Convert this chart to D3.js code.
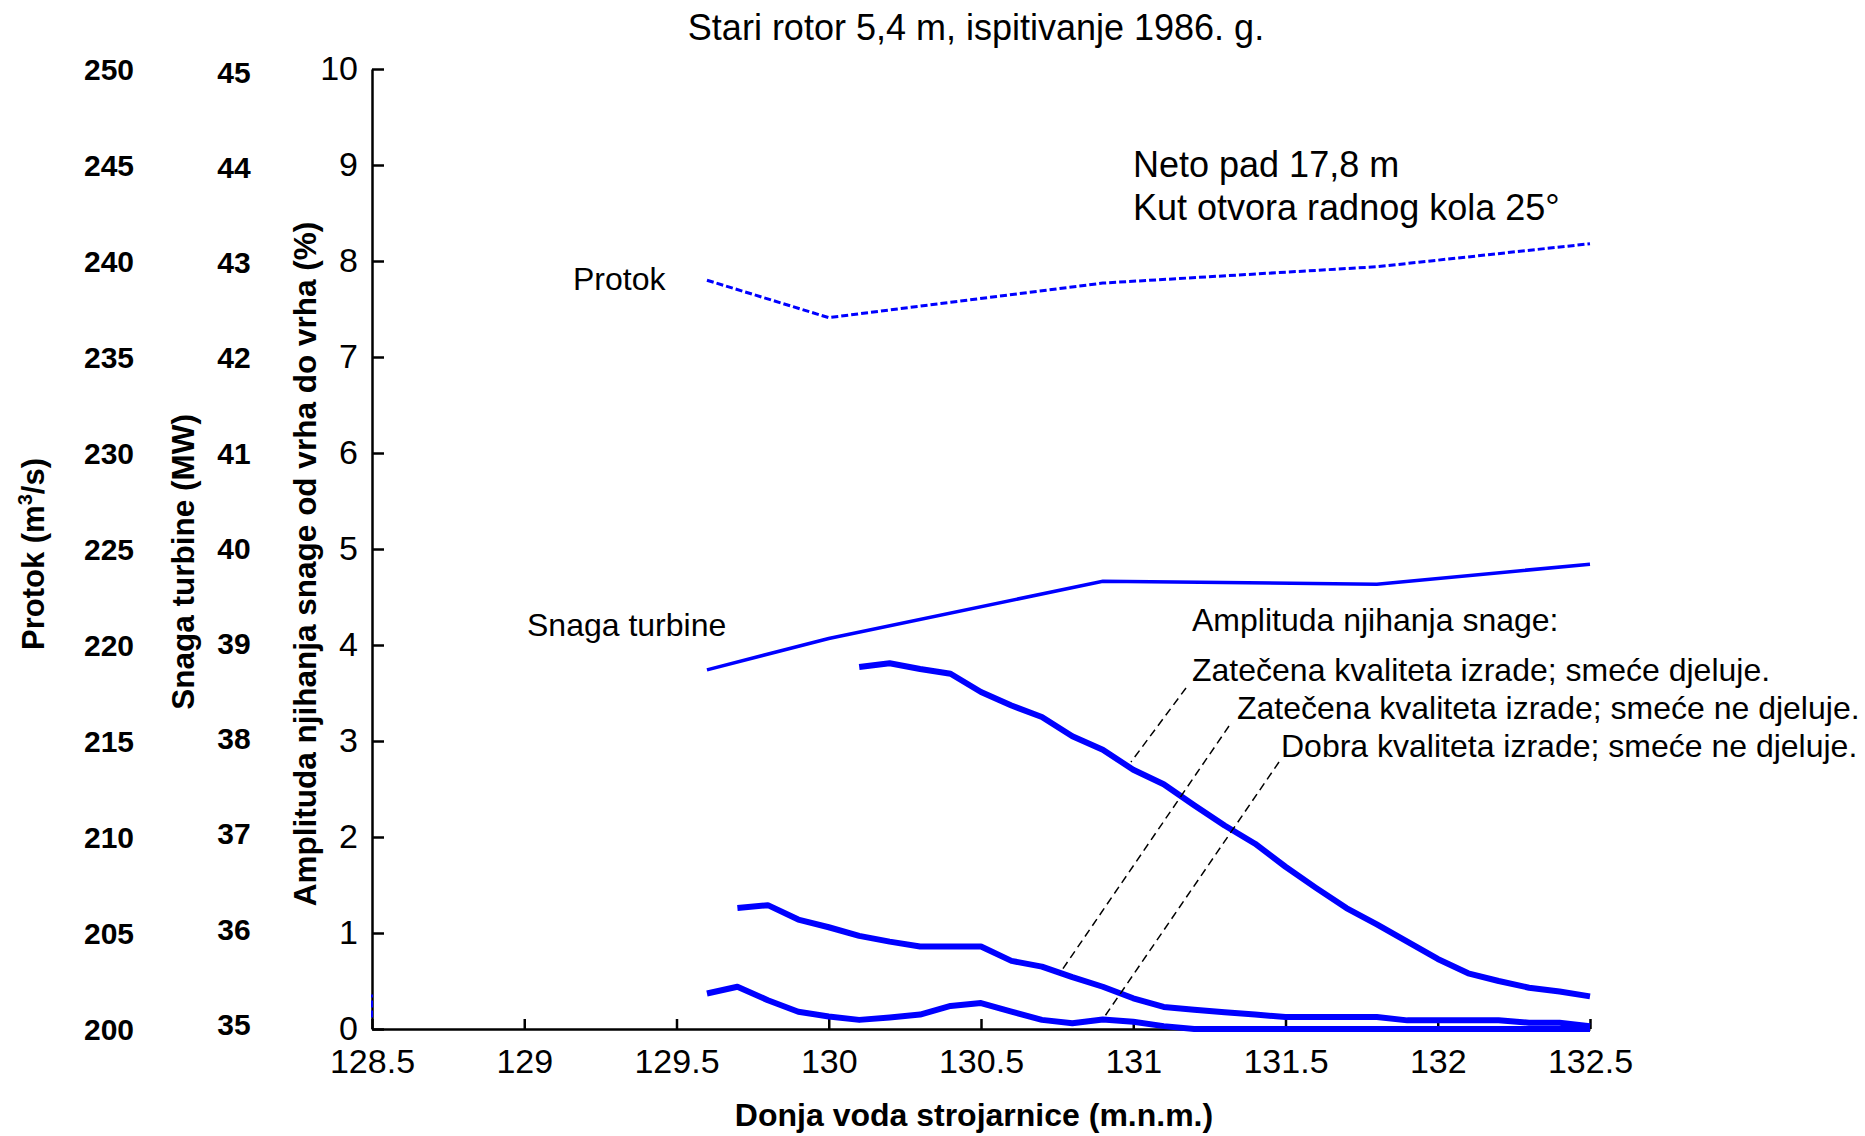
<!DOCTYPE html>
<html>
<head>
<meta charset="utf-8">
<script src="https://cdn.jsdelivr.net/npm/d3@7"></script>
<style>
  body { margin: 0; background: #fff; }
  text { font-family: "Liberation Sans", Arial, sans-serif; }
</style>
</head>
<body>
<svg id="chart"></svg>
<script>
const W = 1865, H = 1136

// x: donja voda (m.n.m.)
const xTicks = [128.5, 129, 129.5, 130, 130.5, 131, 131.5, 132, 132.5]
const ampTicks = [0, 1, 2, 3, 4, 5, 6, 7, 8, 9, 10]
const protokTicks = [200, 205, 210, 215, 220, 225, 230, 235, 240, 245, 250]
const snagaTicks = [35, 36, 37, 38, 39, 40, 41, 42, 43, 44, 45]

// Protok (m3/s) and Snaga turbine (MW)
const flowX = [129.6, 130.0, 130.9, 131.8, 132.5]
const protok = [239.0, 237.05, 238.85, 239.7, 240.9]
const snaga = [38.72, 39.05, 39.65, 39.62, 39.83]

// amplituda njihanja snage (%)
const topX = [130.1, 130.2, 130.3, 130.4, 130.5, 130.6, 130.7, 130.8, 130.9, 131.0, 131.1, 131.2, 131.3,
    131.4, 131.5, 131.6, 131.7, 131.8, 131.9, 132.0, 132.1, 132.2, 132.3, 132.4, 132.5]
const ampDjeluje = [3.77, 3.81, 3.75, 3.70, 3.51, 3.37, 3.25, 3.05, 2.91, 2.70, 2.55, 2.33, 2.12,
    1.93, 1.69, 1.47, 1.26, 1.09, 0.91, 0.73, 0.58, 0.50, 0.43, 0.39, 0.34]

const midX = [129.7, 129.8, 129.9, 130.0, 130.1, 130.2, 130.3, 130.4, 130.5, 130.6, 130.7, 130.8, 130.9,
    131.0, 131.1, 131.2, 131.3, 131.4, 131.5, 131.6, 131.7, 131.8, 131.9, 132.0, 132.1, 132.2, 132.3,
    132.4, 132.5]
const ampNeDjeluje = [1.26, 1.29, 1.14, 1.06, 0.97, 0.91, 0.86, 0.86, 0.86, 0.71, 0.65, 0.54, 0.44,
    0.32, 0.23, 0.20, 0.175, 0.15, 0.125, 0.125, 0.125, 0.125, 0.09, 0.09, 0.09, 0.09, 0.065,
    0.065, 0.03]

const lowX = [129.6, 129.7, 129.8, 129.9, 130.0, 130.1, 130.2, 130.3, 130.4, 130.5, 130.6, 130.7, 130.8,
    130.9, 131.0, 131.1, 131.2, 131.5, 132.0, 132.5]
const ampDobra = [0.37, 0.44, 0.30, 0.18, 0.13, 0.095, 0.12, 0.15, 0.24, 0.27, 0.18, 0.095, 0.06,
    0.10, 0.075, 0.03, 0, 0, 0, 0]

// stray dashed piece on the left axis
const stubX = [128.5, 128.5]
const stubAmp = [0.12, 0.36]

const svg = d3.select('#chart').attr('width', W).attr('height', H)

const x = d3.scaleLinear().domain([128.5, 132.5]).range([372, 1590])
const yAmp = d3.scaleLinear().domain([0, 10]).range([1029, 69])
const yProtok = d3.scaleLinear().domain([200, 250]).range([1029, 69])
const ySnaga = d3.scaleLinear().domain([35, 45]).range([1024, 72])

const blue = '#0000ff'

// ---------------- axes
const yAxis = svg.append('g')
    .attr('transform', 'translate(372,0)')
    .call(d3.axisLeft(yAmp).tickValues(ampTicks).tickSizeInner(-12).tickSizeOuter(0).tickPadding(14))
const xAxis = svg.append('g')
    .attr('transform', 'translate(0,1029)')
    .call(d3.axisBottom(x).tickValues(xTicks).tickFormat(d3.format('')).tickSizeInner(-10).tickSizeOuter(0).tickPadding(20))

for (const g of [xAxis, yAxis]) {
    g.select('.domain').attr('stroke', '#000').attr('stroke-width', 2.5)
    g.selectAll('.tick line').attr('stroke', '#000').attr('stroke-width', 2.5)
    g.selectAll('.tick text').attr('fill', '#000').style('font-size', '34px')
        .style('font-family', '"Liberation Sans", Arial, sans-serif')
}

svg.append('g').selectAll('text')
    .data(protokTicks).enter().append('text')
    .attr('x', 109).attr('y', d => yProtok(d)).attr('dy', '0.36em')
    .attr('text-anchor', 'middle')
    .style('font-size', '30px').style('font-weight', 'bold')
    .text(d => d)

svg.append('g').selectAll('text')
    .data(snagaTicks).enter().append('text')
    .attr('x', 234).attr('y', d => ySnaga(d)).attr('dy', '0.36em')
    .attr('text-anchor', 'middle')
    .style('font-size', '30px').style('font-weight', 'bold')
    .text(d => d)

// ---------------- axis titles
const pt = svg.append('text')
    .attr('transform', 'translate(44,554) rotate(-90)')
    .attr('text-anchor', 'middle')
    .style('font-size', '31px').style('font-weight', 'bold')
pt.append('tspan').text('Protok (m')
pt.append('tspan').attr('dy', -12).style('font-size', '20px').text('3')
pt.append('tspan').attr('dy', 12).text('/s)')

svg.append('text')
    .attr('transform', 'translate(194,562) rotate(-90)')
    .attr('text-anchor', 'middle')
    .style('font-size', '31.5px').style('font-weight', 'bold')
    .text('Snaga turbine (MW)')

svg.append('text')
    .attr('transform', 'translate(316,564) rotate(-90)')
    .attr('text-anchor', 'middle')
    .style('font-size', '31.5px').style('font-weight', 'bold')
    .text('Amplituda njihanja snage od vrha do vrha (%)')

svg.append('text')
    .attr('x', 974).attr('y', 1126)
    .attr('text-anchor', 'middle')
    .style('font-size', '32px').style('font-weight', 'bold')
    .text('Donja voda strojarnice (m.n.m.)')

svg.append('text')
    .attr('x', 976).attr('y', 40)
    .attr('text-anchor', 'middle')
    .style('font-size', '36px')
    .text('Stari rotor 5,4 m, ispitivanje 1986. g.')

// ---------------- lines
const line = (ys, scale) => d3.line()
    .x((d, i) => x(d))
    .y((d, i) => scale(ys[i]))

svg.append('path').datum(flowX)
    .attr('d', line(protok, yProtok))
    .attr('fill', 'none').attr('stroke', blue).attr('stroke-width', 3)
    .attr('stroke-dasharray', '7,3')

svg.append('path').datum(stubX)
    .attr('d', line(stubAmp, yAmp))
    .attr('fill', 'none').attr('stroke', blue).attr('stroke-width', 2)
    .attr('stroke-dasharray', '7,3')

svg.append('path').datum(flowX)
    .attr('d', line(snaga, ySnaga))
    .attr('fill', 'none').attr('stroke', blue).attr('stroke-width', 3.5)

const ampSeries = [
    { xs: topX, ys: ampDjeluje },
    { xs: midX, ys: ampNeDjeluje },
    { xs: lowX, ys: ampDobra }
]
ampSeries.forEach(s => {
    svg.append('path').datum(s.xs)
        .attr('d', line(s.ys, yAmp))
        .attr('fill', 'none').attr('stroke', blue).attr('stroke-width', 6)
        .attr('stroke-linejoin', 'round')
})

// ---------------- annotations
const label = (tx, ty, txt, size) => svg.append('text')
    .attr('x', tx).attr('y', ty)
    .style('font-size', size + 'px')
    .text(txt)

label(1133, 177, 'Neto pad 17,8 m', 36)
label(1133, 220, 'Kut otvora radnog kola 25°', 36)
label(573, 290, 'Protok', 32)
label(527, 636, 'Snaga turbine', 32)
label(1192, 631, 'Amplituda njihanja snage:', 32)
label(1192, 681, 'Zatečena kvaliteta izrade; smeće djeluje.', 32)
label(1237, 719, 'Zatečena kvaliteta izrade; smeće ne djeluje.', 32)
label(1281, 757, 'Dobra kvaliteta izrade; smeće ne djeluje.', 32)

// leader lines
const leaders = [
    [[1186, 688], [1131, 762]],
    [[1229, 726], [1060, 973]],
    [[1279, 762], [1105, 1016]]
]
svg.append('g').selectAll('path')
    .data(leaders).enter().append('path')
    .attr('d', d => d3.line()(d))
    .attr('fill', 'none').attr('stroke', '#000').attr('stroke-width', 1.5)
    .attr('stroke-dasharray', '8,5')
</script>
</body>
</html>
